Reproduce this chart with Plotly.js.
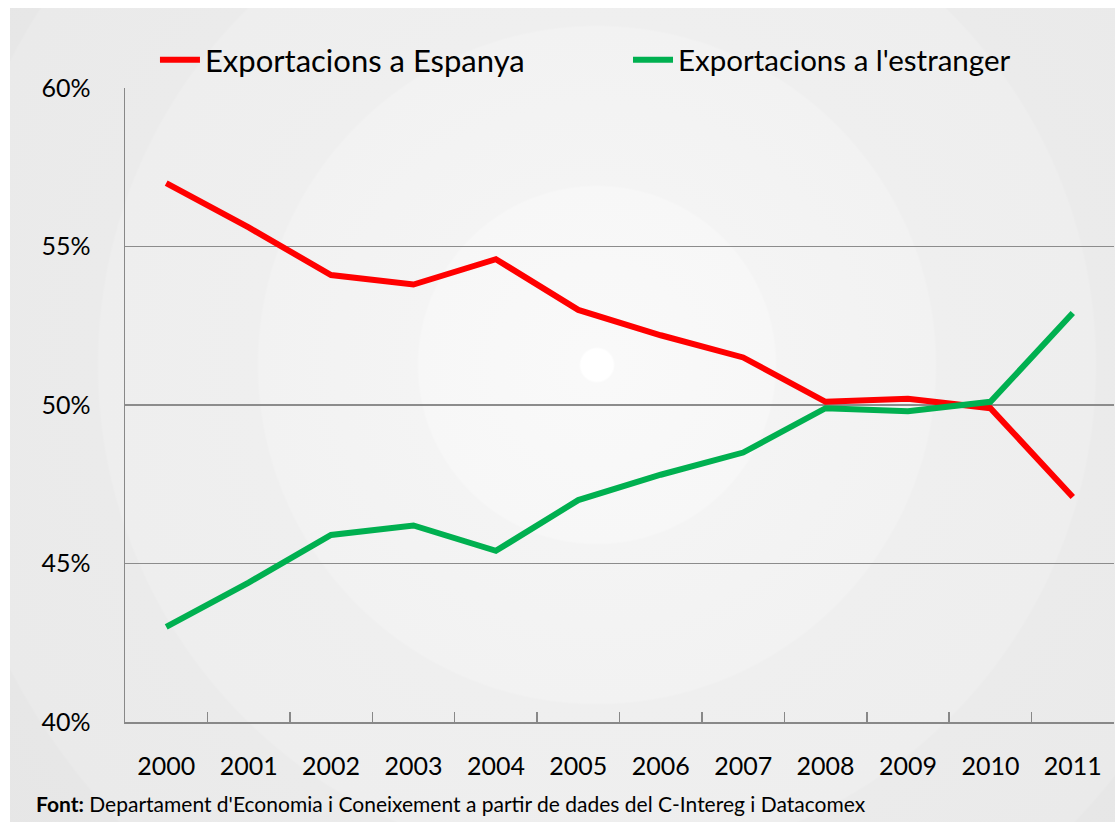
<!DOCTYPE html>
<html>
<head>
<meta charset="utf-8">
<script src="https://cdn.plot.ly/plotly-3.0.1.min.js"></script>
<style>
  html, body { margin: 0; padding: 0; background: #ffffff; }
  #wrap { position: relative; width: 1115px; height: 822px; }
  #bg { position: absolute; left: 10px; top: 8px; width: 1105px; height: 814px;
        background: radial-gradient(circle at 587px 357px,
          #ffffff 0px, #ffffff 16px,
          #f9f9f9 18px, #f7f7f7 178px,
          #f4f4f4 180px, #f2f2f2 338px,
          #efefef 340px, #eeeeee 498px,
          #ebebeb 500px, #eaeaea 660px,
          #e7e7e7 662px, #e5e5e5 900px); }
  #chart { position: absolute; left: 0; top: 0; width: 1115px; height: 822px; }
</style>
</head>
<body>
<div id="wrap"><div id="bg"></div><div id="chart"></div></div>
<script>
const years = ["2000","2001","2002","2003","2004","2005","2006","2007","2008","2009","2010","2011"];
const espanya = [57.0, 55.6, 54.1, 53.8, 54.6, 53.0, 52.2, 51.5, 50.1, 50.2, 49.9, 47.1];
const estranger = [43.0, 44.4, 45.9, 46.2, 45.4, 47.0, 47.8, 48.5, 49.9, 49.8, 50.1, 52.9];
const yTicks = [40, 45, 50, 55, 60];
const seriesNames = ["Exportacions a Espanya", "Exportacions a l'estranger"];
const sourceText = "<b>Font:</b> Departament d'Economia i Coneixement a partir de dades del C-Intereg i Datacomex";

const fontFam = "Lato, 'Open Sans', 'DejaVu Sans', sans-serif";

const traces = [
  { x: years, y: espanya, name: seriesNames[0], type: "scatter", mode: "lines",
    line: { color: "#ff0000", width: 6 }, legend: "legend" },
  { x: years, y: estranger, name: seriesNames[1], type: "scatter", mode: "lines",
    line: { color: "#00b050", width: 6 }, legend: "legend2" }
];

const legBase = { orientation: "h", y: 1.044, yanchor: "middle", yref: "paper",
                  xanchor: "left", bgcolor: "rgba(0,0,0,0)", itemwidth: 40 };

const layout = {
  width: 1115, height: 822,
  paper_bgcolor: "rgba(0,0,0,0)", plot_bgcolor: "rgba(0,0,0,0)",
  margin: { l: 125, r: 1, t: 88, b: 100 },
  font: { family: fontFam, color: "#000000" },
  showlegend: true,
  legend: Object.assign({}, legBase, { x: 0.0303,
            font: { size: 31, family: fontFam, color: "#000" } }),
  legend2: Object.assign({}, legBase, { x: 0.5086,
            font: { size: 29.5, family: fontFam, color: "#000" } }),
  xaxis: {
    type: "category", range: [-0.5, 11.5], tickson: "boundaries", ticks: "inside", ticklen: 10,
    tickcolor: "#888888", tickwidth: 1.5,
    showline: true, linecolor: "#888888", linewidth: 1.5,
    showgrid: false, zeroline: false,
    tickfont: { size: 25, family: fontFam, color: "#000" },
    ticklabelstandoff: 21, fixedrange: true
  },
  yaxis: {
    range: [40, 60], tickvals: yTicks, ticktext: yTicks.map(v => v + "%"),
    ticks: "", showline: true, linecolor: "#888888", linewidth: 1.5,
    showgrid: true, gridcolor: "#8c8c8c", gridwidth: 1.2, zeroline: false,
    tickfont: { size: 25, family: fontFam, color: "#000" },
    ticklabelstandoff: 28, fixedrange: true
  },
  annotations: [
    { text: sourceText, xref: "paper", yref: "paper", x: -0.092, y: -0.128,
      xanchor: "left", yanchor: "middle", showarrow: false,
      font: { size: 21, family: fontFam, color: "#000" } }
  ]
};

Plotly.newPlot("chart", traces, layout, { displayModeBar: false, staticPlot: true });
</script>
</body>
</html>
